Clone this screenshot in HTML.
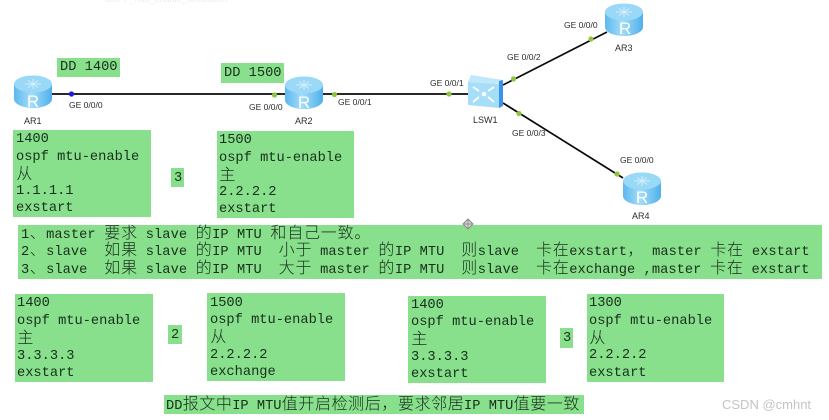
<!DOCTYPE html>
<html><head><meta charset="utf-8"><style>
html,body{margin:0;padding:0;background:#fff}
#p{position:relative;width:829px;height:420px;overflow:hidden;background:#fff;font-family:"Liberation Mono","Noto Sans CJK SC",monospace;filter:blur(.35px)}
.g{position:absolute;background:#89e08c}
.t{position:absolute;white-space:pre;font-size:13.7px;line-height:17px;height:17px;color:#17301c;font-family:"Liberation Mono","Noto Sans CJK SC",monospace;margin-top:1px}
.t.c{margin-top:-1px}
.t i{font-style:normal;font-size:16px;font-family:"Noto Sans CJK SC",sans-serif;display:inline-block;width:16.8px;text-align:center;line-height:17px;font-weight:300}
.t.s i{width:16.6px}
.t.w{letter-spacing:.05px}
svg{position:absolute;left:0;top:0}
svg text{font-family:"Liberation Sans",sans-serif;font-size:8.5px;fill:#2c2c2c}
svg text.r{font-size:17px;fill:#fff;text-anchor:middle}
</style></head><body><div id="p">
<svg width="829" height="420" viewBox="0 0 829 420">
<defs><linearGradient id="a" x1="0" x2="1" y1="0" y2="0"><stop offset="0" stop-color="#5cb8ee"/><stop offset=".45" stop-color="#a4dcf8"/><stop offset="1" stop-color="#4eb0ea"/></linearGradient>
<g id="rt"><path d="M0 9V24C0 29 8.500 33 19 33S38 29 38 24V9Z" fill="url(#a)"/><ellipse cx="19" cy="9" rx="19" ry="8.500" fill="#9ad8f7"/><path d="M11 9h16M19 4v10M14 5.500l10 7M24 5.500l-10 7" stroke="#d4f0fc" stroke-width="1"/></g></defs>
<text x="105" y="2" style="fill:#ececec;font-size:9px">OSPF_mtu_enable_simulation</text>
<g stroke="#0a0a0a" stroke-width="1.700" fill="none"><path d="M50 94H470"/><path d="M503 85L607 32"/><path d="M503 103L623 178"/></g>
<use href="#rt" x="14" y="75"/><use href="#rt" x="285" y="76"/><use href="#rt" x="605" y="3"/><use href="#rt" x="623" y="172"/>
<text class="r" x="33" y="107">R</text><text class="r" x="304" y="108">R</text><text class="r" x="625" y="34">R</text><text class="r" x="642" y="203">R</text>
<g>
<path d="M471 75L503 80V84L468 82Z" fill="#bfe8fa"/><path d="M468 82L499 84V108L468 105Z" fill="#a5def8"/><path d="M499 81L503 80V106L499 108Z" fill="#3b93e6"/>
<path d="M473 87l6 4M473 102l6-5M494 87l-6 4M494 102l-6-5" stroke="#fff" stroke-width="1.800"/><circle cx="484" cy="94" r="2.300" fill="#fff"/>
</g>
<circle cx="71.500" cy="94" r="2.600" fill="#1a1ae0"/>
<g fill="#8cc63f"><circle cx="274.500" cy="95" r="2.600"/><circle cx="334.500" cy="94.500" r="2.600"/><circle cx="449" cy="94" r="2.600"/><circle cx="513.500" cy="79" r="2.600"/><circle cx="591" cy="39" r="2.600"/><circle cx="519" cy="113.500" r="2.600"/><circle cx="617" cy="174" r="2.600"/></g>
<text x="69" y="108">GE 0/0/0</text><text x="249" y="110">GE 0/0/0</text><text x="338" y="105">GE 0/0/1</text><text x="430" y="86">GE 0/0/1</text><text x="507" y="60">GE 0/0/2</text><text x="564" y="28">GE 0/0/0</text><text x="512" y="136">GE 0/0/3</text><text x="620" y="163">GE 0/0/0</text>
<text x="24" y="124" style="font-size:9px">AR1</text><text x="295" y="124" style="font-size:9px">AR2</text><text x="473" y="123" style="font-size:9px">LSW1</text><text x="615" y="51" style="font-size:9px">AR3</text><text x="632" y="219" style="font-size:9px">AR4</text>
<text x="722" y="409" style="font-size:13px;fill:#c4c4c4">CSDN @cmhnt</text>
</svg>

<div class="g" style="left:57px;top:58px;width:63px;height:19px"></div><div class="t" style="left:60px;top:58px">DD 1400</div>
<div class="g" style="left:221px;top:63px;width:63px;height:20px"></div><div class="t" style="left:224px;top:64px">DD 1500</div>

<div class="g" style="left:13px;top:130px;width:138px;height:87px"></div>
<div class="t" style="left:16px;top:130px">1400</div><div class="t" style="left:16px;top:148px">ospf mtu-enable</div><div class="t c" style="left:16px;top:165px"><i>从</i></div><div class="t" style="left:16px;top:182px">1.1.1.1</div><div class="t" style="left:16px;top:199px">exstart</div>

<div class="g" style="left:171px;top:168px;width:13px;height:19px"></div><div class="t" style="left:174px;top:169px">3</div>

<div class="g" style="left:217px;top:131px;width:137px;height:87px"></div>
<div class="t" style="left:219px;top:131px">1500</div><div class="t" style="left:219px;top:149px">ospf mtu-enable</div><div class="t c" style="left:219px;top:166px"><i>主</i></div><div class="t" style="left:219px;top:183px">2.2.2.2</div><div class="t" style="left:219px;top:200px">exstart</div>

<div class="g" style="left:18px;top:225px;width:804px;height:54px"></div>
<div class="t c w" style="left:21px;top:223.500px">1<i>、</i>master <i>要</i><i>求</i> slave <i>的</i>IP MTU <i>和</i><i>自</i><i>己</i><i>一</i><i>致</i><i>。</i></div>
<div class="t c w" style="left:21px;top:241px">2<i>、</i>slave  <i>如</i><i>果</i> slave <i>的</i>IP MTU  <i>小</i><i>于</i> master <i>的</i>IP MTU  <i>则</i>slave  <i>卡</i><i>在</i>exstart<i>，</i> master <i>卡</i><i>在</i> exstart</div>
<div class="t c w" style="left:21px;top:258.500px">3<i>、</i>slave  <i>如</i><i>果</i> slave <i>的</i>IP MTU  <i>大</i><i>于</i> master <i>的</i>IP MTU  <i>则</i>slave  <i>卡</i><i>在</i>exchange ,master <i>卡</i><i>在</i> exstart</div>

<div class="g" style="left:15px;top:294px;width:138px;height:88px"></div>
<div class="t" style="left:17px;top:294px">1400</div><div class="t" style="left:17px;top:312px">ospf mtu-enable</div><div class="t c" style="left:17px;top:329px"><i>主</i></div><div class="t" style="left:17px;top:347px">3.3.3.3</div><div class="t" style="left:17px;top:364px">exstart</div>

<div class="g" style="left:168px;top:325px;width:14px;height:19px"></div><div class="t" style="left:171px;top:326px">2</div>

<div class="g" style="left:207px;top:293px;width:138px;height:88px"></div>
<div class="t" style="left:210px;top:294px">1500</div><div class="t" style="left:210px;top:311px">ospf mtu-enable</div><div class="t c" style="left:210px;top:328px"><i>从</i></div><div class="t" style="left:210px;top:346px">2.2.2.2</div><div class="t" style="left:210px;top:363px">exchange</div>

<div class="g" style="left:408px;top:296px;width:138px;height:87px"></div>
<div class="t" style="left:411px;top:296px">1400</div><div class="t" style="left:411px;top:313px">ospf mtu-enable</div><div class="t c" style="left:411px;top:330px"><i>主</i></div><div class="t" style="left:411px;top:348px">3.3.3.3</div><div class="t" style="left:411px;top:365px">exstart</div>

<div class="g" style="left:560px;top:328px;width:13px;height:20px"></div><div class="t" style="left:563px;top:329px">3</div>

<div class="g" style="left:587px;top:294px;width:137px;height:88px"></div>
<div class="t" style="left:589px;top:294px">1300</div><div class="t" style="left:589px;top:312px">ospf mtu-enable</div><div class="t c" style="left:589px;top:329px"><i>从</i></div><div class="t" style="left:589px;top:346px">2.2.2.2</div><div class="t" style="left:589px;top:364px">exstart</div>

<div class="g" style="left:164px;top:395px;width:420px;height:19px"></div>
<div class="t c s" style="left:166px;top:395px">DD<i>报</i><i>文</i><i>中</i>IP MTU<i>值</i><i>开</i><i>启</i><i>检</i><i>测</i><i>后</i><i>，</i><i>要</i><i>求</i><i>邻</i><i>居</i>IP MTU<i>值</i><i>要</i><i>一</i><i>致</i></div>

<svg width="829" height="420" viewBox="0 0 829 420"><path d="M468 219l5 5-5 5-5-5Z" fill="#d8d8d8" stroke="#8a8a8a" stroke-width="1"/><path d="M464 224h8M468 220v8" stroke="#777" stroke-width=".7"/></svg>
</div></body></html>
